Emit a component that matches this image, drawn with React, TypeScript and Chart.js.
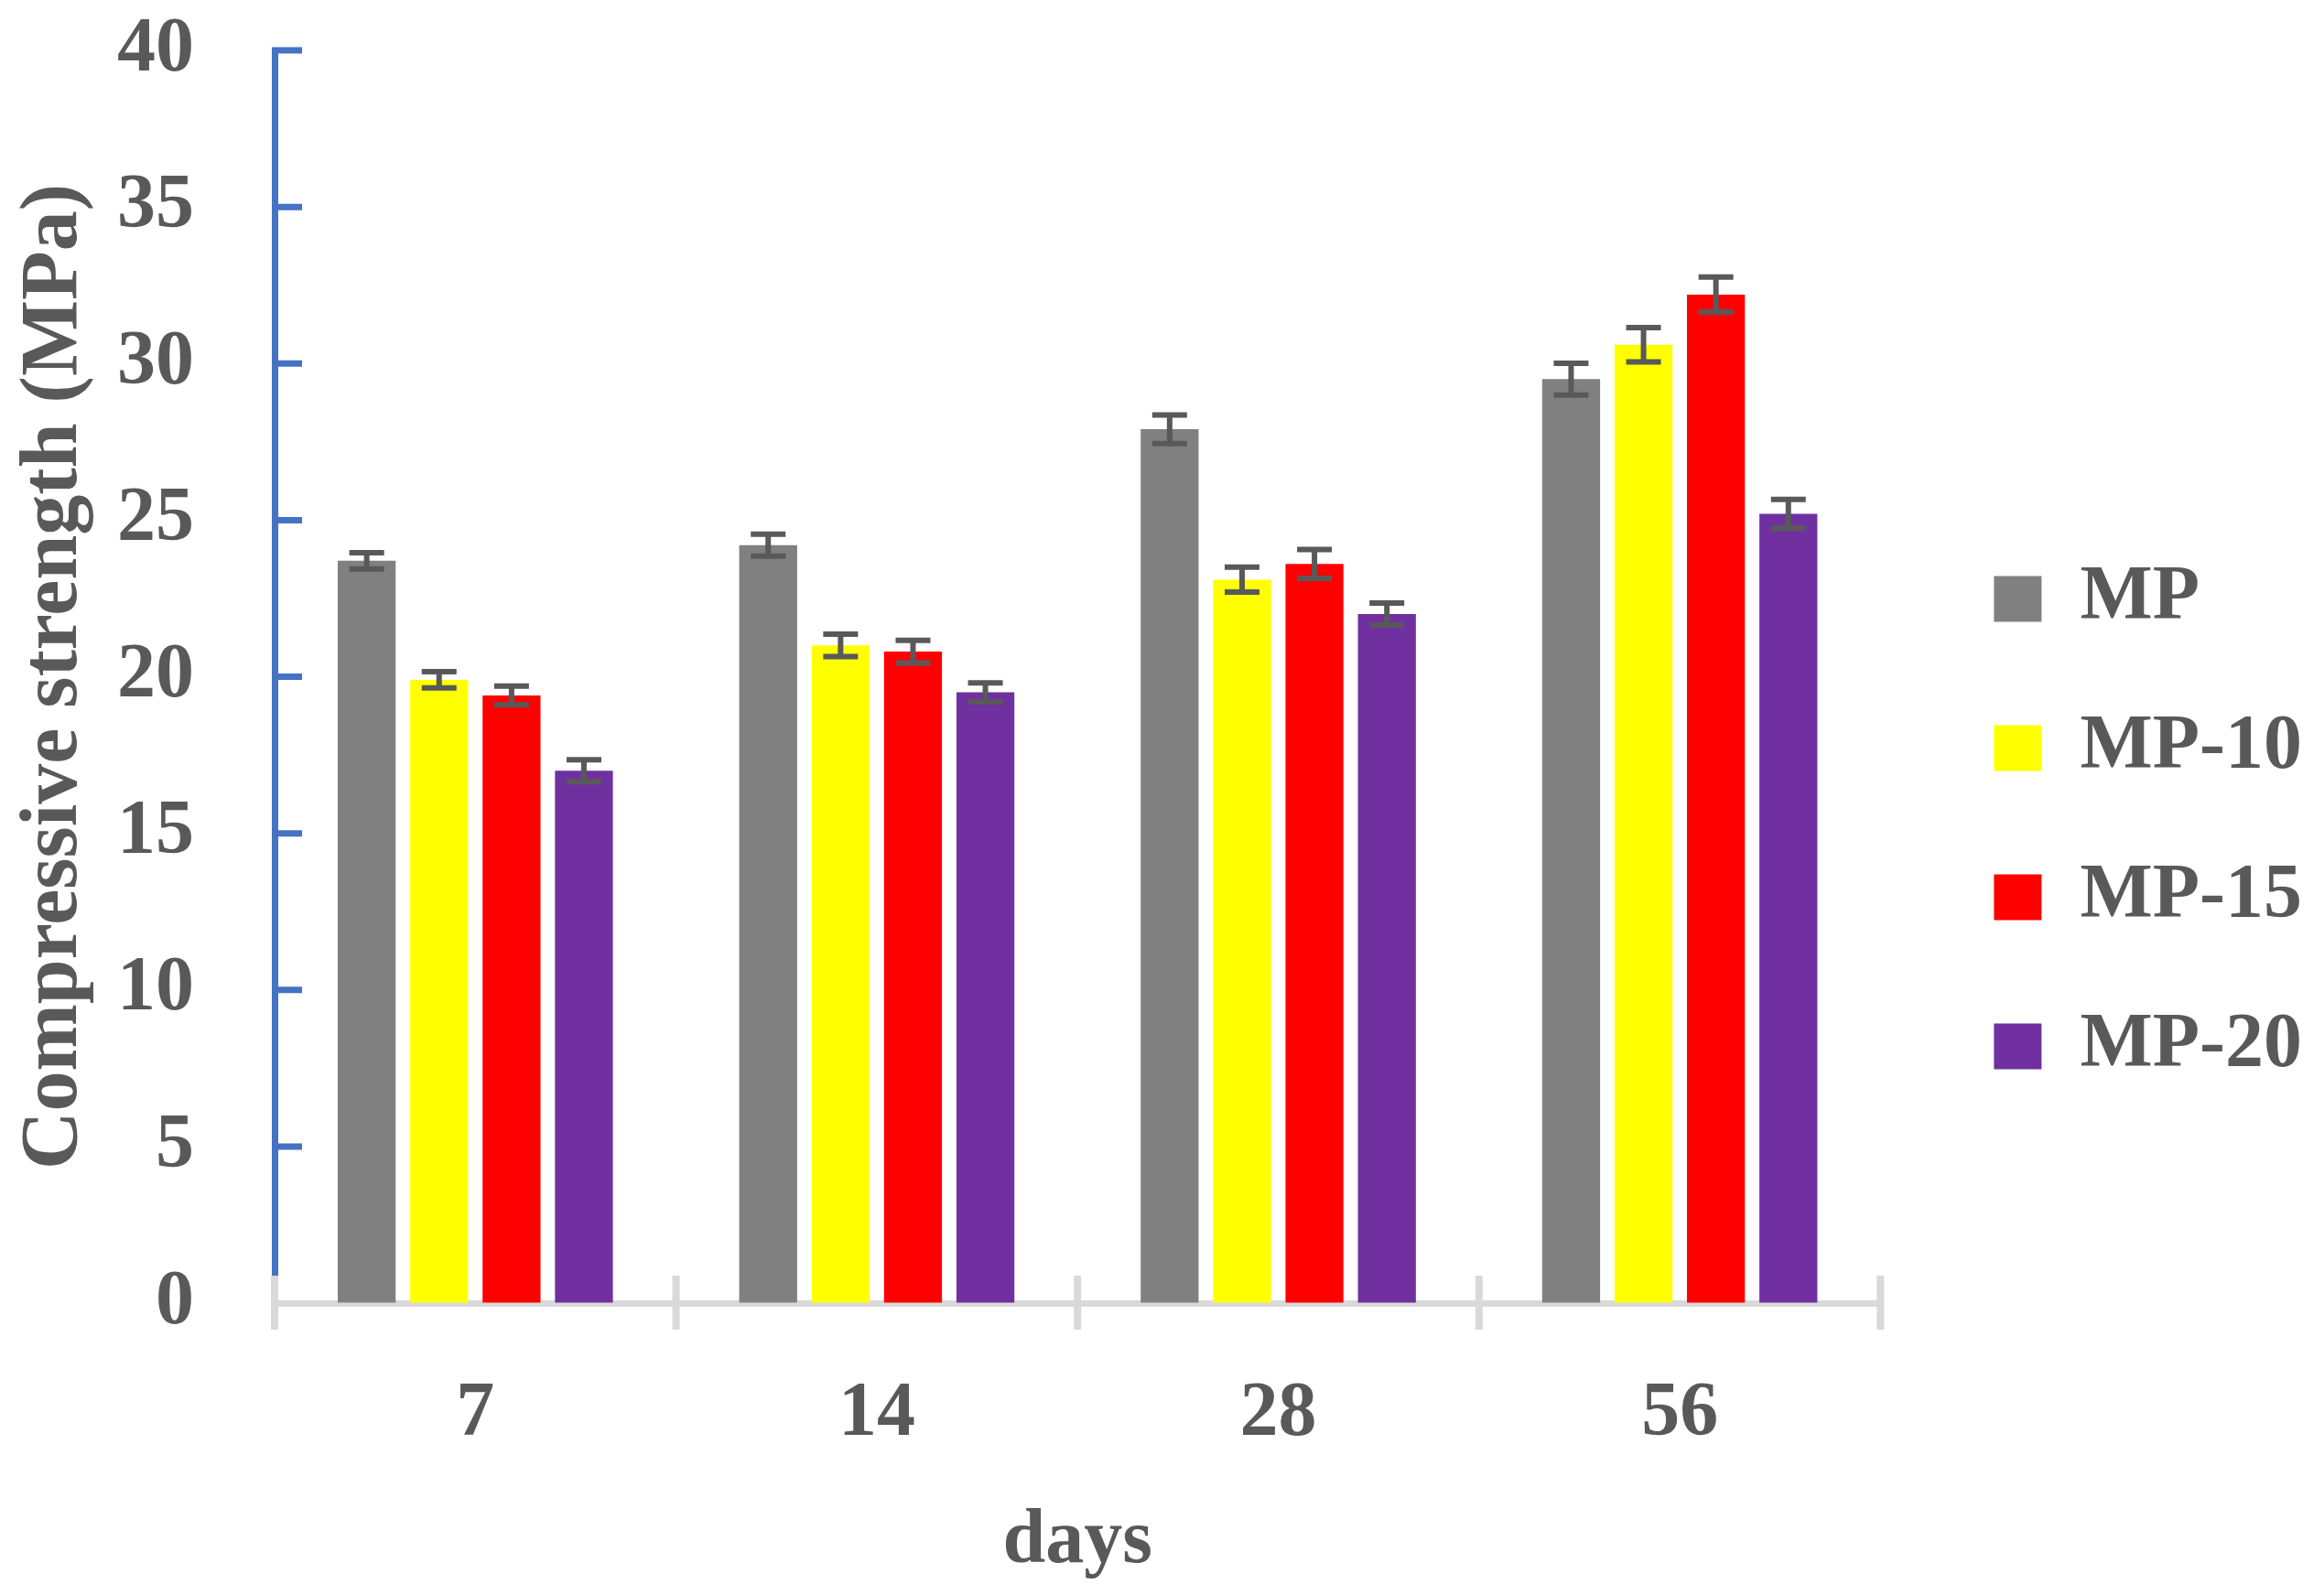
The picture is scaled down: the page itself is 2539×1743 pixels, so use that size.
import { useEffect, useRef } from "react"
import { Chart, registerables } from "chart.js"
import type { Plugin } from "chart.js"

Chart.register(...registerables)

// ages of the specimens (days)
const days = ["7", "14", "28", "56"]

// compressive strength, MPa
const mp = [23.7, 24.2, 27.9, 29.5]
const mp10 = [19.9, 21.0, 23.1, 30.6]
const mp15 = [19.4, 20.8, 23.6, 32.2]
const mp20 = [17.0, 19.5, 22.0, 25.2]

// standard deviation (error bars)
const mpErr = [0.26, 0.35, 0.46, 0.51]
const mp10Err = [0.26, 0.36, 0.4, 0.55]
const mp15Err = [0.3, 0.36, 0.46, 0.56]
const mp20Err = [0.35, 0.3, 0.35, 0.46]

const yTicks = [0, 5, 10, 15, 20, 25, 30, 35, 40]

const TEXT = "#595959"
const FONT = "'Liberation Serif', 'Times New Roman', serif"

const errors = [mpErr, mp10Err, mp15Err, mp20Err]

// error bars drawn on top of the bars
const errorBars: Plugin<"bar"> = {
  id: "errorBars",
  afterDatasetsDraw(chart) {
    const ctx = chart.ctx
    const y = chart.scales.y
    ctx.save()
    ctx.strokeStyle = TEXT
    ctx.lineWidth = 6
    chart.data.datasets.forEach((ds, i) => {
      const meta = chart.getDatasetMeta(i)
      meta.data.forEach((bar, j) => {
        const v = ds.data[j] as number
        const e = errors[i][j]
        const top = y.getPixelForValue(v + e)
        const bot = y.getPixelForValue(v - e)
        const x = bar.x
        ctx.beginPath()
        ctx.moveTo(x, top)
        ctx.lineTo(x, bot)
        ctx.moveTo(x - 19, top)
        ctx.lineTo(x + 19, top)
        ctx.moveTo(x - 19, bot)
        ctx.lineTo(x + 19, bot)
        ctx.stroke()
      })
    })
    ctx.restore()
  },
}

// Excel-style tick marks: blue ones inside the value axis, grey ones crossing the category axis
const axisMarks: Plugin<"bar"> = {
  id: "axisMarks",
  afterDraw(chart) {
    const ctx = chart.ctx
    const { x, y } = chart.scales
    const left = chart.chartArea.left
    ctx.save()
    ctx.strokeStyle = "#4472C4"
    ctx.lineWidth = 7
    yTicks.forEach((t) => {
      if (t === 0) return
      const py = y.getPixelForValue(t)
      ctx.beginPath()
      ctx.moveTo(left - 3, py)
      ctx.lineTo(left + 30, py)
      ctx.stroke()
    })
    const zero = y.getPixelForValue(0)
    ctx.strokeStyle = "#D9D9D9"
    ctx.lineWidth = 8
    for (let i = 0; i <= days.length; i++) {
      const px = x.getPixelForValue(i - 0.5)
      ctx.beginPath()
      ctx.moveTo(px, zero - 30)
      ctx.lineTo(px, zero + 29)
      ctx.stroke()
    }
    ctx.restore()
  },
}

// move the legend a little away from the plot
const legendShift: Plugin<"bar"> = {
  id: "legendShift",
  afterLayout(chart) {
    const lg = chart.legend
    if (!lg) return
    lg.left += 45
    lg.right += 45
  },
}

export default function App() {
  const canvasRef = useRef<HTMLCanvasElement>(null)

  useEffect(() => {
    if (!canvasRef.current) return
    const chart = new Chart(canvasRef.current, {
      type: "bar",
      data: {
        labels: days,
        datasets: [
          { label: "MP", data: mp, backgroundColor: "#808080" },
          { label: "MP-10", data: mp10, backgroundColor: "#FFFF00" },
          { label: "MP-15", data: mp15, backgroundColor: "#FF0000" },
          { label: "MP-20", data: mp20, backgroundColor: "#7030A0" },
        ],
      },
      options: {
        animation: false,
        responsive: true,
        maintainAspectRatio: false,
        devicePixelRatio: 1,
        layout: { padding: { top: 55, right: 59, bottom: 0, left: 0 } },
        datasets: {
          bar: {
            borderWidth: 0,
            categoryPercentage: 0.7215,
            barPercentage: 0.8,
          },
        },
        plugins: {
          tooltip: { enabled: false },
          legend: {
            position: "right",
            labels: {
              color: TEXT,
              boxWidth: 52,
              boxHeight: 50,
              padding: 79,
              font: { family: FONT, size: 84, weight: "bold" },
            },
          },
        },
        scales: {
          x: {
            z: 1,
            grid: { display: false, drawTicks: false },
            border: { display: true, color: "#D9D9D9", width: 7 },
            ticks: {
              color: TEXT,
              padding: 72,
              font: { family: FONT, size: 84, weight: "bold" },
            },
            title: {
              display: true,
              text: "days",
              color: TEXT,
              padding: { top: 0, bottom: 7 },
              font: { family: FONT, size: 84, weight: "bold" },
            },
            afterFit(scale) {
              scale.height = 319
            },
          },
          y: {
            min: 0,
            max: 40,
            // invisible tick marks only push the labels away from the axis
            grid: {
              display: true,
              drawOnChartArea: false,
              drawTicks: true,
              tickLength: 88,
              color: "rgba(0,0,0,0)",
            },
            border: { display: true, color: "#4472C4", width: 7 },
            afterBuildTicks(scale) {
              scale.ticks = yTicks.map((v) => ({ value: v }))
            },
            ticks: {
              color: TEXT,
              padding: 0,
              font: { family: FONT, size: 84, weight: "bold" },
            },
            title: {
              display: true,
              text: "Compressive strength (MPa)",
              color: TEXT,
              padding: { top: 7, bottom: 0 },
              font: { family: FONT, size: 88, weight: "bold" },
            },
            afterFit(scale) {
              scale.width = 300
            },
          },
        },
      },
      plugins: [errorBars, axisMarks, legendShift],
    })
    return () => chart.destroy()
  }, [])

  return (
    <div style={{ position: "absolute", left: 0, top: 0, width: 2539, height: 1743, background: "#fff" }}>
      <canvas ref={canvasRef} />
    </div>
  )
}
